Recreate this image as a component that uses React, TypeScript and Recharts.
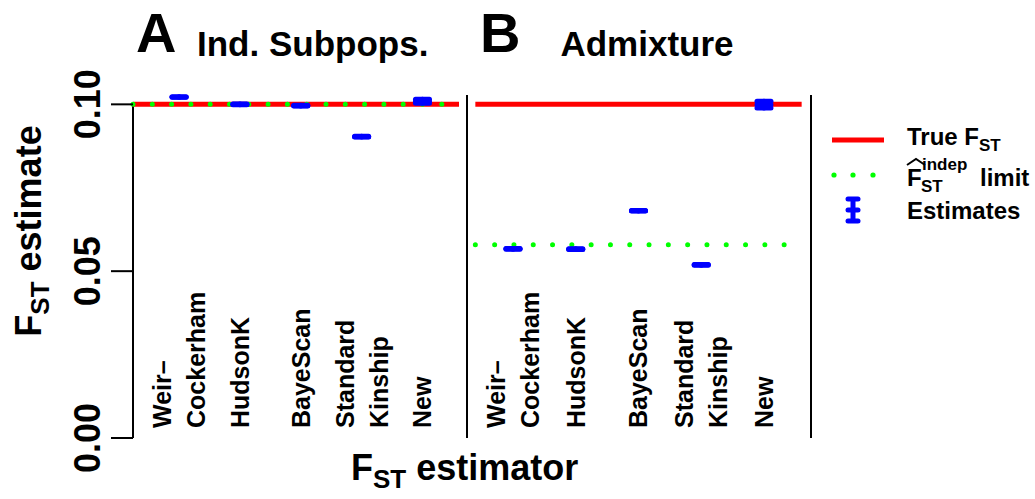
import React from 'react';
import { ComposedChart, Scatter, ErrorBar, XAxis, YAxis, ReferenceLine, Legend } from 'recharts';

// estimator names, one entry per category (multi-line labels split)
const estimatorLabels: string[][] = [['Weir–', 'Cockerham'], ['HudsonK'], ['BayeScan'], ['Standard', 'Kinship'], ['New']];
const estimatorPos = [1, 2, 3, 4, 5];
const yTicks = [0, 0.05, 0.1];

const trueFst = 0.1;
const limitA = 0.1;
const limitB = 0.0579;

// panel A: independent subpopulations
const estA = [0.1022, 0.1, 0.0996, 0.0903, 0.1009];
const loA = [0.1021, 0.0999, 0.0995, 0.0902, 0.1003];
const hiA = [0.1023, 0.1001, 0.0997, 0.0904, 0.1015];

// panel B: admixture
const estB = [0.0567, 0.0566, 0.0681, 0.0519, 0.0999];
const loB = [0.0566, 0.0565, 0.068, 0.0518, 0.0989];
const hiB = [0.0568, 0.0567, 0.0682, 0.052, 0.1009];

const legendItems = ['True', 'limit', 'Estimates'];

const FONT = '"Liberation Sans", Arial, Helvetica, sans-serif';
const RED = '#ff0000';
const GREEN = '#00ff00';
const BLUE = '#0000ff';

const W = 1035;
const H = 499;
const Y_DOMAIN: [number, number] = [0, 0.1028];
const DOMAIN_A: [number, number] = [0.243, 5.6];
const DOMAIN_B: [number, number] = [0.267, 5.749];

const toRows = (est: number[], lo: number[], hi: number[]) =>
  estimatorPos.map((x, i) => ({ x, y: est[i], err: [est[i] - lo[i], hi[i] - est[i]] }));

const rowsA = toRows(estA, loA, hiA);
const rowsB = toRows(estB, loB, hiB);

const Dash = (props: any) => {
  const { cx, cy } = props;
  if (cx == null || cy == null) return null;
  return <line x1={cx - 7} x2={cx + 7} y1={cy} y2={cy} stroke={BLUE} strokeWidth={5} strokeLinecap="round" />;
};

const YTick = (props: any) => {
  const { x, y, payload } = props;
  return (
    <text transform={`translate(${x},${y}) rotate(-90)`} textAnchor="middle" fontFamily={FONT} fontWeight="bold" fontSize={36} fill="#000">
      {Number(payload.value).toFixed(2)}
    </text>
  );
};

const XTick = (props: any) => {
  const { x, payload } = props;
  const lines = estimatorLabels[payload.value - 1] || [];
  const n = lines.length;
  return (
    <g>
      {lines.map((t, i) => (
        <text key={t} transform={`translate(${x + 9 + (i - (n - 1) / 2) * 34},428) rotate(-90)`} textAnchor="start" fontFamily={FONT} fontWeight="bold" fontSize={25} fill="#000">
          {t}
        </text>
      ))}
    </g>
  );
};

const LegendBox = () => (
  <svg width={210} height={110} style={{ overflow: 'visible' }}>
    <line x1={7} x2={59} y1={20} y2={20} stroke={RED} strokeWidth={5} />
    {[9, 28, 48].map((cx) => (
      <circle key={cx} cx={cx} cy={55} r={2.6} fill={GREEN} />
    ))}
    <line x1={28} x2={28} y1={79} y2={101} stroke={BLUE} strokeWidth={5} />
    {[79, 90, 101].map((cy) => (
      <line key={cy} x1={23} x2={33} y1={cy} y2={cy} stroke={BLUE} strokeWidth={5} strokeLinecap="round" />
    ))}
    <g fontFamily={FONT} fontWeight="bold" fill="#000">
      <text x={82} y={25} fontSize={24}>
        {legendItems[0]} F<tspan dy={6} fontSize={17}>ST</tspan>
      </text>
      <polyline points="82,45 91,39 100,45" fill="none" stroke="#000" strokeWidth={2} />
      <text fontSize={24}>
        <tspan x={82} y={66}>F</tspan>
        <tspan x={96} y={72} fontSize={17}>ST</tspan>
        <tspan x={97} y={50} fontSize={17}>indep</tspan>
        <tspan x={155} y={66}>{legendItems[1]}</tspan>
      </text>
      <text x={82} y={99} fontSize={24}>
        {legendItems[2]}
      </text>
    </g>
  </svg>
);

export default function App() {
  return (
    <div style={{ position: 'absolute', left: 0, top: 0, width: W, height: H, background: '#fff' }}>
      <div style={{ position: 'absolute', left: 0, top: 0 }}>
        <ComposedChart width={W} height={H} margin={{ top: 95, right: 576, bottom: 31, left: 0 }}>
          <XAxis dataKey="x" type="number" domain={DOMAIN_A} ticks={estimatorPos} allowDataOverflow axisLine={false} tickLine={false} height={30} tick={<XTick />} interval={0} />
          <YAxis type="number" domain={Y_DOMAIN} ticks={yTicks} allowDataOverflow width={133} axisLine={false} tickSize={22} tickMargin={11} tickLine={{ stroke: '#000', strokeWidth: 2 }} tick={<YTick />} interval={0} />
          <ReferenceLine segment={[{ x: DOMAIN_A[0], y: 0 }, { x: DOMAIN_A[0], y: 0.1 }]} stroke="#000" strokeWidth={2} ifOverflow="visible" />
          <ReferenceLine segment={[{ x: DOMAIN_A[0], y: trueFst }, { x: 5.6, y: trueFst }]} stroke={RED} strokeWidth={5} ifOverflow="visible" />
          <ReferenceLine segment={[{ x: DOMAIN_A[0], y: limitA }, { x: 5.6, y: limitA }]} stroke={GREEN} strokeWidth={5} strokeDasharray="0 19.3" strokeLinecap="round" ifOverflow="visible" />
          <Scatter data={rowsA} dataKey="y" shape={<Dash />} isAnimationActive={false}>
            <ErrorBar dataKey="err" direction="y" width={7} stroke={BLUE} strokeWidth={5} strokeLinecap="round" isAnimationActive={false} />
          </Scatter>
          <g fontFamily={FONT} fontWeight="bold" fill="#000">
            <text x={136} y={52} fontSize={56}>A</text>
            <text x={197} y={56} fontSize={35}>Ind. Subpops.</text>
            <text x={480} y={52} fontSize={56}>B</text>
            <text x={647} y={56} fontSize={35} textAnchor="middle">Admixture</text>
            <text transform="translate(41,231) rotate(-90)" fontSize={36} textAnchor="middle">
              F<tspan dy={8} fontSize={26}>ST</tspan>
              <tspan dy={-8}> estimate</tspan>
            </text>
            <text x={351} y={480} fontSize={36}>
              F<tspan dy={8} fontSize={26}>ST</tspan>
              <tspan dy={-8}> estimator</tspan>
            </text>
          </g>
        </ComposedChart>
      </div>
      <div style={{ position: 'absolute', left: 0, top: 0 }}>
        <ComposedChart width={W} height={H} margin={{ top: 95, right: 224, bottom: 31, left: 467 }}>
          <XAxis dataKey="x" type="number" domain={DOMAIN_B} ticks={estimatorPos} allowDataOverflow axisLine={false} tickLine={false} height={30} tick={<XTick />} interval={0} />
          <YAxis type="number" domain={Y_DOMAIN} allowDataOverflow hide />
          <ReferenceLine x={DOMAIN_B[0]} stroke="#000" strokeWidth={2} />
          <ReferenceLine x={DOMAIN_B[1]} stroke="#000" strokeWidth={2} />
          <ReferenceLine segment={[{ x: 0.4, y: trueFst }, { x: 5.6, y: trueFst }]} stroke={RED} strokeWidth={5} ifOverflow="visible" />
          <ReferenceLine segment={[{ x: 0.4, y: limitB }, { x: 5.6, y: limitB }]} stroke={GREEN} strokeWidth={5} strokeDasharray="0 19.3" strokeLinecap="round" ifOverflow="visible" />
          <Scatter data={rowsB} dataKey="y" shape={<Dash />} isAnimationActive={false}>
            <ErrorBar dataKey="err" direction="y" width={7} stroke={BLUE} strokeWidth={5} strokeLinecap="round" isAnimationActive={false} />
          </Scatter>
          <Legend
            layout="vertical"
            align="center"
            verticalAlign="middle"
            content={<LegendBox />}
            wrapperStyle={{ position: 'absolute', left: 825, top: 120, width: 210, height: 110 }}
          />
        </ComposedChart>
      </div>
    </div>
  );
}
